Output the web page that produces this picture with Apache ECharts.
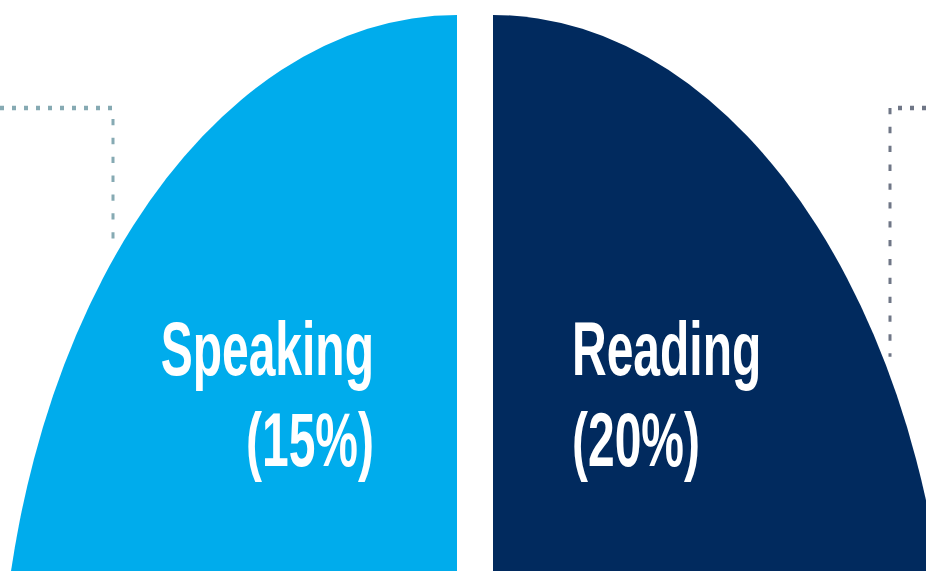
<!DOCTYPE html>
<html>
<head>
<meta charset="utf-8">
<script src="https://cdn.jsdelivr.net/npm/echarts@6/dist/echarts.min.js"></script>
<style>
  html, body { margin: 0; padding: 0; background: #ffffff; overflow: hidden; }
  #wrap { width: 926px; height: 571px; overflow: hidden; position: relative; }
  /* the source graphic is stretched vertically (elliptical pie) */
  #chart { width: 926px; height: 364px; transform: scaleY(1.572); transform-origin: 0 0; }
</style>
</head>
<body>
<div id="wrap"><div id="chart"></div></div>
<script>
// ---- data ----
const skills = ['Reading', 'Speaking'];
const shares = [20, 15];            // percent of the exam
const skillColors = ['#012a5e', '#00acec'];
const otherName = 'Other sections';
const otherShare = 100 - shares[0] - shares[1];

const chart = echarts.init(document.getElementById('chart'), null, { renderer: 'svg' });

// exploded layout: each visible slice is pulled 18px sideways from the shared centre
const layout = {
  Reading:  { cx: 493, lx: 572, ly: 251, align: 'left' },
  Speaking: { cx: 457, lx: 374, ly: 251, align: 'right' }
};

function buildData(visible) {
  const names = [skills[0], otherName, skills[1]];
  const values = [shares[0], otherShare, shares[1]];
  return names.map(function (n, i) {
    const isVis = n === visible;
    const ci = skills.indexOf(n);
    return {
      name: n, value: values[i],
      itemStyle: { color: isVis ? skillColors[ci] : 'rgba(0,0,0,0)' },
      label: { show: isVis, align: isVis ? layout[n].align : 'center' }
    };
  });
}

function makeSeries(visible) {
  const L = layout[visible];
  const data = buildData(visible);
  return {
    type: 'pie',
    center: [L.cx, 467.5],
    radius: [0, 458],
    startAngle: 90,
    clockwise: true,
    minAngle: 90,
    avoidLabelOverlap: false,
    silent: true,
    z: 2,
    itemStyle: { borderWidth: 0 },
    label: {
      position: 'inside',
      formatter: '{b}\n({c}%)',
      color: '#ffffff',
      fontFamily: 'Liberation Sans',
      fontWeight: 'bold',
      fontSize: 48,
      lineHeight: 58
    },
    labelLine: { show: false },
    labelLayout: function (p) {
      if (data[p.dataIndex].name !== visible) return {};
      return { x: L.lx, y: L.ly, align: L.align, verticalAlign: 'middle' };
    },
    data: data
  };
}

chart.setOption({
  backgroundColor: '#ffffff',
  animation: false,
  graphic: [
    {
      type: 'polyline', z: 0,
      shape: { points: [[0, 68.7], [113, 68.7], [113, 157]] },
      style: { stroke: '#86aab3', lineWidth: 3, lineDash: [4, 8], fill: null }
    },
    {
      type: 'polyline', z: 0,
      shape: { points: [[926, 68.7], [890, 68.7], [890, 227]] },
      style: { stroke: '#6f7686', lineWidth: 3, lineDash: [4, 8], fill: null }
    }
  ],
  series: [makeSeries('Speaking'), makeSeries('Reading')]
});
</script>
</body>
</html>
